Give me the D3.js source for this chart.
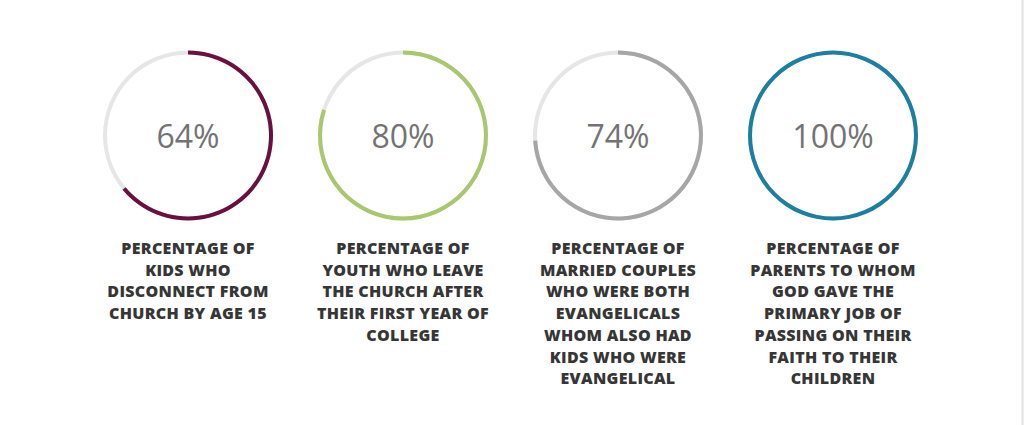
<!DOCTYPE html>
<html>
<head>
<meta charset="utf-8">
<script src="https://cdn.jsdelivr.net/npm/d3@7/dist/d3.min.js"></script>
<style>
  html, body { margin: 0; padding: 0; background: #fff; }
  svg { display: block; }
</style>
</head>
<body>
<svg id="chart" width="1024" height="425"></svg>
<script>
const categories = ["kids", "youth", "couples", "parents"];
const values = [64, 80, 74, 100];
const valueLabels = ["64%", "80%", "74%", "100%"];
const colors = ["#6a0f40", "#a9c76c", "#a6a6a6", "#1b7fa2"];
const captions = [
  ["PERCENTAGE OF", "KIDS WHO", "DISCONNECT FROM", "CHURCH BY AGE 15"],
  ["PERCENTAGE OF", "YOUTH WHO LEAVE", "THE CHURCH AFTER", "THEIR FIRST YEAR OF", "COLLEGE"],
  ["PERCENTAGE OF", "MARRIED COUPLES", "WHO WERE BOTH", "EVANGELICALS", "WHOM ALSO HAD", "KIDS WHO WERE", "EVANGELICAL"],
  ["PERCENTAGE OF", "PARENTS TO WHOM", "GOD GAVE THE", "PRIMARY JOB OF", "PASSING ON THEIR", "FAITH TO THEIR", "CHILDREN"]
];

const svg = d3.select("#chart");
const W = 1024, H = 425;

// right edge border
svg.append("rect").attr("x", 1021).attr("y", 0).attr("width", 3).attr("height", H).attr("fill", "#efefef");
svg.append("rect").attr("x", 1022).attr("y", 0).attr("width", 1).attr("height", H).attr("fill", "#e4e4e4");

const x = d3.scalePoint().domain(categories).range([188, 833]);
const pct = d3.scaleLinear().domain([0, 100]).range([0, 2 * Math.PI]);
const cy = 135.5;
const arc = d3.arc().innerRadius(81).outerRadius(85);

const g = svg.selectAll("g.ring").data(categories).join("g")
  .attr("class", "ring")
  .attr("transform", d => `translate(${x(d)},${cy})`);

g.append("path")
  .attr("d", arc({startAngle: 0, endAngle: 2 * Math.PI}))
  .attr("fill", "#e6e6e6");

g.append("path")
  .attr("d", (d, i) => arc({startAngle: 0, endAngle: pct(values[i])}))
  .attr("fill", (d, i) => colors[i]);

g.append("text")
  .attr("x", 0).attr("y", 12)
  .attr("text-anchor", "middle")
  .attr("font-family", "'Open Sans', sans-serif")
  .attr("font-size", 32)
  .attr("font-weight", 400)
  .attr("fill", "#737373")
  .text((d, i) => valueLabels[i]);

const cap = svg.selectAll("text.cap").data(categories).join("text")
  .attr("class", "cap")
  .attr("text-anchor", "middle")
  .attr("font-family", "'Open Sans', sans-serif")
  .attr("font-size", 16)
  .attr("font-weight", 800)
  .attr("letter-spacing", 0.3)
  .attr("fill", "#363636");

cap.selectAll("tspan").data((d, i) => captions[i]).join("tspan")
  .attr("x", function() { return x(d3.select(this.parentNode).datum()); })
  .attr("y", (d, j) => 254 + j * 21.7)
  .text(d => d);
</script>
</body>
</html>
